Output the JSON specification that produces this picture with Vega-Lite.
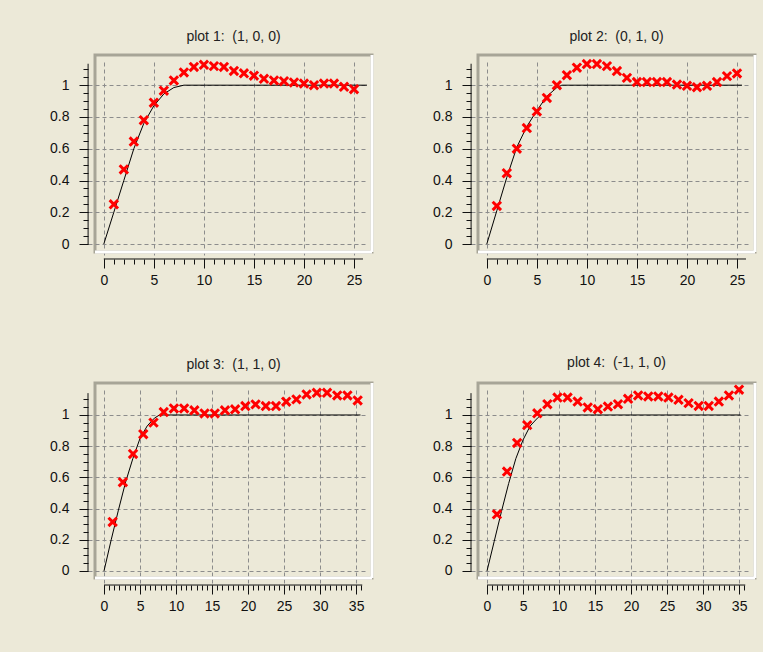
{
  "$schema": "https://vega.github.io/schema/vega-lite/v6.json",
  "background": "#ECE9D8",
  "padding": {"left": 48, "top": 28, "right": 5, "bottom": 37},
  "config": {
    "view": {"stroke": "#A7A597", "strokeWidth": 3},
    "title": {"font": "Liberation Sans", "fontSize": 14, "fontWeight": "normal", "color": "#222222", "anchor": "middle", "frame": "group", "offset": 10},
    "axis": {"labelFont": "Liberation Sans", "labelFontSize": 14, "labelColor": "#111111", "tickColor": "#111111", "tickWidth": 1, "domain": false, "labelFlush": false, "labelOverlap": false, "labelBound": false, "offset": 7, "title": null, "gridColor": "#8c8c8c", "gridDash": [4, 3], "gridWidth": 1, "gridOpacity": 1}
  },
  "datasets": {
    "p1": [{"x":1,"y":0.25},{"x":2,"y":0.47},{"x":3,"y":0.645},{"x":4,"y":0.78},{"x":5,"y":0.89},{"x":6,"y":0.965},{"x":7,"y":1.03},{"x":8,"y":1.08},{"x":9,"y":1.115},{"x":10,"y":1.128},{"x":11,"y":1.12},{"x":12,"y":1.115},{"x":13,"y":1.09},{"x":14,"y":1.075},{"x":15,"y":1.06},{"x":16,"y":1.04},{"x":17,"y":1.03},{"x":18,"y":1.025},{"x":19,"y":1.017},{"x":20,"y":1.01},{"x":21,"y":1.0},{"x":22,"y":1.01},{"x":23,"y":1.01},{"x":24,"y":0.99},{"x":25,"y":0.975}],
    "p2": [{"x":1,"y":0.24},{"x":2,"y":0.446},{"x":3,"y":0.6},{"x":4,"y":0.73},{"x":5,"y":0.835},{"x":6,"y":0.92},{"x":7,"y":1.0},{"x":8,"y":1.063},{"x":9,"y":1.11},{"x":10,"y":1.133},{"x":11,"y":1.133},{"x":12,"y":1.12},{"x":13,"y":1.089},{"x":14,"y":1.046},{"x":15,"y":1.02},{"x":16,"y":1.02},{"x":17,"y":1.02},{"x":18,"y":1.02},{"x":19,"y":1.004},{"x":20,"y":0.996},{"x":21,"y":0.987},{"x":22,"y":0.996},{"x":23,"y":1.02},{"x":24,"y":1.057},{"x":25,"y":1.074}],
    "p3": [{"x":1.2,"y":0.314},{"x":2.62,"y":0.569},{"x":4.03,"y":0.75},{"x":5.45,"y":0.877},{"x":6.87,"y":0.951},{"x":8.29,"y":1.019},{"x":9.7,"y":1.042},{"x":11.12,"y":1.042},{"x":12.54,"y":1.03},{"x":13.95,"y":1.01},{"x":15.37,"y":1.01},{"x":16.79,"y":1.03},{"x":18.2,"y":1.036},{"x":19.62,"y":1.057},{"x":21.04,"y":1.068},{"x":22.46,"y":1.057},{"x":23.87,"y":1.057},{"x":25.29,"y":1.085},{"x":26.71,"y":1.1},{"x":28.12,"y":1.132},{"x":29.54,"y":1.142},{"x":30.96,"y":1.142},{"x":32.37,"y":1.125},{"x":33.79,"y":1.125},{"x":35.21,"y":1.093}],
    "p4": [{"x":1.38,"y":0.363},{"x":2.78,"y":0.637},{"x":4.18,"y":0.821},{"x":5.58,"y":0.935},{"x":6.98,"y":1.011},{"x":8.38,"y":1.069},{"x":9.78,"y":1.112},{"x":11.18,"y":1.112},{"x":12.58,"y":1.086},{"x":13.98,"y":1.048},{"x":15.38,"y":1.037},{"x":16.78,"y":1.054},{"x":18.18,"y":1.069},{"x":19.58,"y":1.104},{"x":20.98,"y":1.125},{"x":22.38,"y":1.119},{"x":23.78,"y":1.119},{"x":25.18,"y":1.112},{"x":26.58,"y":1.097},{"x":27.98,"y":1.076},{"x":29.38,"y":1.058},{"x":30.78,"y":1.058},{"x":32.18,"y":1.086},{"x":33.58,"y":1.125},{"x":34.98,"y":1.162}],
    "l1": [{"x":0,"y":0},{"x":1,"y":0.2},{"x":2,"y":0.4},{"x":3,"y":0.6},{"x":4,"y":0.76},{"x":5,"y":0.87},{"x":6,"y":0.945},{"x":7,"y":0.985},{"x":8,"y":1},{"x":26.3,"y":1}],
    "l2": [{"x":0,"y":0},{"x":1,"y":0.21},{"x":2,"y":0.42},{"x":3,"y":0.61},{"x":4,"y":0.74},{"x":5,"y":0.84},{"x":6,"y":0.93},{"x":7,"y":0.985},{"x":7.5,"y":1},{"x":25.5,"y":1}],
    "l3": [{"x":0,"y":0},{"x":1,"y":0.2},{"x":2,"y":0.39},{"x":3,"y":0.57},{"x":4,"y":0.72},{"x":5,"y":0.85},{"x":6,"y":0.93},{"x":7,"y":0.98},{"x":7.7,"y":1},{"x":35.6,"y":1}],
    "l4": [{"x":0,"y":0},{"x":1,"y":0.19},{"x":2,"y":0.38},{"x":3,"y":0.56},{"x":4,"y":0.72},{"x":5,"y":0.84},{"x":6,"y":0.93},{"x":7,"y":0.98},{"x":7.5,"y":1},{"x":35.2,"y":1}]
  },
  "columns": 2,
  "spacing": {"row": 65, "column": 56},
  "concat": [
    {
      "title": {"text": "plot 1:\u00a0 (1, 0, 0)"},
      "width": 277, "height": 197,
      "resolve": {"axis": {"x": "independent", "y": "independent"}},
      "layer": [
        {"data": {"values": [{}]}, "mark": {"type": "rule", "color": "#ffffff", "strokeWidth": 3},
         "encoding": {"x": {"datum": 26.8, "scale": {"domain": [-0.88, 26.8], "nice": false, "zero": false}, "axis": null}, "y": {"datum": -0.05, "scale": {"domain": [-0.05, 1.19], "nice": false, "zero": false}, "axis": null}, "y2": {"datum": 1.19}}},
        {"data": {"values": [{}]}, "mark": {"type": "rule", "color": "#ffffff", "strokeWidth": 3},
         "encoding": {"x": {"datum": -0.88, "axis": null}, "x2": {"datum": 26.8}, "y": {"datum": -0.05, "axis": null}}},
        {"data": {"values": [{}]}, "mark": {"type": "rule", "color": "#111111", "strokeWidth": 1},
         "encoding": {"x": {"datum": 0, "axis": null}, "x2": {"datum": 25.9}, "y": {"datum": -0.094, "axis": null}}},
        {"data": {"values": [{}]}, "mark": {"type": "rule", "color": "#111111", "strokeWidth": 1},
         "encoding": {"x": {"datum": -1.57, "axis": null}, "y": {"datum": 0, "axis": null}, "y2": {"datum": 1.135}}},
        {"data": {"name": "l1"}, "mark": {"type": "line", "color": "#000000", "strokeWidth": 1},
         "encoding": {
           "x": {"field": "x", "type": "quantitative", "scale": {"domain": [-0.88, 26.8], "nice": false, "zero": false}, "axis": {"orient": "bottom", "values": [0, 5, 10, 15, 20, 25], "tickSize": 9, "labelPadding": 5, "grid": true, "format": "~g"}},
           "y": {"field": "y", "type": "quantitative", "scale": {"domain": [-0.05, 1.19], "nice": false, "zero": false}, "axis": {"orient": "left", "values": [0, 0.2, 0.4, 0.6, 0.8, 1], "tickSize": 9, "labelPadding": 10, "grid": true, "format": "~g"}}}},
        {"data": {"name": "p1"}, "mark": {"type": "point", "shape": "M-1,-1L1,1M1,-1L-1,1", "filled": false, "stroke": "#ff0000", "strokeWidth": 3, "size": 70, "opacity": 1},
         "encoding": {
           "x": {"field": "x", "type": "quantitative", "axis": {"orient": "bottom", "values": [0,1,2,3,4,5,6,7,8,9,10,11,12,13,14,15,16,17,18,19,20,21,22,23,24,25], "tickSize": 5, "labels": false, "grid": false}},
           "y": {"field": "y", "type": "quantitative", "axis": {"orient": "left", "values": [0,0.05,0.1,0.15,0.2,0.25,0.3,0.35,0.4,0.45,0.5,0.55,0.6,0.65,0.7,0.75,0.8,0.85,0.9,0.95,1,1.05,1.1], "tickSize": 5, "labels": false, "grid": false}}}}
      ]
    },
    {
      "title": {"text": "plot 2:\u00a0 (0, 1, 0)"},
      "width": 277, "height": 197,
      "resolve": {"axis": {"x": "independent", "y": "independent"}},
      "layer": [
        {"data": {"values": [{}]}, "mark": {"type": "rule", "color": "#ffffff", "strokeWidth": 3},
         "encoding": {"x": {"datum": 26.8, "scale": {"domain": [-0.88, 26.8], "nice": false, "zero": false}, "axis": null}, "y": {"datum": -0.05, "scale": {"domain": [-0.05, 1.19], "nice": false, "zero": false}, "axis": null}, "y2": {"datum": 1.19}}},
        {"data": {"values": [{}]}, "mark": {"type": "rule", "color": "#ffffff", "strokeWidth": 3},
         "encoding": {"x": {"datum": -0.88, "axis": null}, "x2": {"datum": 26.8}, "y": {"datum": -0.05, "axis": null}}},
        {"data": {"values": [{}]}, "mark": {"type": "rule", "color": "#111111", "strokeWidth": 1},
         "encoding": {"x": {"datum": 0, "axis": null}, "x2": {"datum": 25.9}, "y": {"datum": -0.094, "axis": null}}},
        {"data": {"values": [{}]}, "mark": {"type": "rule", "color": "#111111", "strokeWidth": 1},
         "encoding": {"x": {"datum": -1.57, "axis": null}, "y": {"datum": 0, "axis": null}, "y2": {"datum": 1.135}}},
        {"data": {"name": "l2"}, "mark": {"type": "line", "color": "#000000", "strokeWidth": 1},
         "encoding": {
           "x": {"field": "x", "type": "quantitative", "scale": {"domain": [-0.88, 26.8], "nice": false, "zero": false}, "axis": {"orient": "bottom", "values": [0, 5, 10, 15, 20, 25], "tickSize": 9, "labelPadding": 5, "grid": true, "format": "~g"}},
           "y": {"field": "y", "type": "quantitative", "scale": {"domain": [-0.05, 1.19], "nice": false, "zero": false}, "axis": {"orient": "left", "values": [0, 0.2, 0.4, 0.6, 0.8, 1], "tickSize": 9, "labelPadding": 10, "grid": true, "format": "~g"}}}},
        {"data": {"name": "p2"}, "mark": {"type": "point", "shape": "M-1,-1L1,1M1,-1L-1,1", "filled": false, "stroke": "#ff0000", "strokeWidth": 3, "size": 70, "opacity": 1},
         "encoding": {
           "x": {"field": "x", "type": "quantitative", "axis": {"orient": "bottom", "values": [0,1,2,3,4,5,6,7,8,9,10,11,12,13,14,15,16,17,18,19,20,21,22,23,24,25], "tickSize": 5, "labels": false, "grid": false}},
           "y": {"field": "y", "type": "quantitative", "axis": {"orient": "left", "values": [0,0.05,0.1,0.15,0.2,0.25,0.3,0.35,0.4,0.45,0.5,0.55,0.6,0.65,0.7,0.75,0.8,0.85,0.9,0.95,1,1.05,1.1], "tickSize": 5, "labels": false, "grid": false}}}}
      ]
    },
    {
      "title": {"text": "plot 3:\u00a0 (1, 1, 0)"},
      "width": 277, "height": 195,
      "resolve": {"axis": {"x": "independent", "y": "independent"}},
      "layer": [
        {"data": {"values": [{}]}, "mark": {"type": "rule", "color": "#ffffff", "strokeWidth": 3},
         "encoding": {"x": {"datum": 37.2, "scale": {"domain": [-1.25, 37.2], "nice": false, "zero": false}, "axis": null}, "y": {"datum": -0.045, "scale": {"domain": [-0.045, 1.205], "nice": false, "zero": false}, "axis": null}, "y2": {"datum": 1.205}}},
        {"data": {"values": [{}]}, "mark": {"type": "rule", "color": "#ffffff", "strokeWidth": 3},
         "encoding": {"x": {"datum": -1.25, "axis": null}, "x2": {"datum": 37.2}, "y": {"datum": -0.045, "axis": null}}},
        {"data": {"values": [{}]}, "mark": {"type": "rule", "color": "#111111", "strokeWidth": 1},
         "encoding": {"x": {"datum": 0, "axis": null}, "x2": {"datum": 35.85}, "y": {"datum": -0.09, "axis": null}}},
        {"data": {"values": [{}]}, "mark": {"type": "rule", "color": "#111111", "strokeWidth": 1},
         "encoding": {"x": {"datum": -2.22, "axis": null}, "y": {"datum": 0, "axis": null}, "y2": {"datum": 1.14}}},
        {"data": {"name": "l3"}, "mark": {"type": "line", "color": "#000000", "strokeWidth": 1},
         "encoding": {
           "x": {"field": "x", "type": "quantitative", "scale": {"domain": [-1.25, 37.2], "nice": false, "zero": false}, "axis": {"orient": "bottom", "values": [0, 5, 10, 15, 20, 25, 30, 35], "tickSize": 9, "labelPadding": 5, "grid": true, "format": "~g"}},
           "y": {"field": "y", "type": "quantitative", "scale": {"domain": [-0.045, 1.205], "nice": false, "zero": false}, "axis": {"orient": "left", "values": [0, 0.2, 0.4, 0.6, 0.8, 1], "tickSize": 9, "labelPadding": 10, "grid": true, "format": "~g"}}}},
        {"data": {"name": "p3"}, "mark": {"type": "point", "shape": "M-1,-1L1,1M1,-1L-1,1", "filled": false, "stroke": "#ff0000", "strokeWidth": 3, "size": 70, "opacity": 1},
         "encoding": {
           "x": {"field": "x", "type": "quantitative", "axis": {"orient": "bottom", "values": [0,0.714,1.429,2.143,2.857,3.571,4.286,5,5.714,6.429,7.143,7.857,8.571,9.286,10,10.714,11.429,12.143,12.857,13.571,14.286,15,15.714,16.429,17.143,17.857,18.571,19.286,20,20.714,21.429,22.143,22.857,23.571,24.286,25,25.714,26.429,27.143,27.857,28.571,29.286,30,30.714,31.429,32.143,32.857,33.571,34.286,35,35.714], "tickSize": 5, "labels": false, "grid": false}},
           "y": {"field": "y", "type": "quantitative", "axis": {"orient": "left", "values": [0,0.05,0.1,0.15,0.2,0.25,0.3,0.35,0.4,0.45,0.5,0.55,0.6,0.65,0.7,0.75,0.8,0.85,0.9,0.95,1,1.05,1.1], "tickSize": 5, "labels": false, "grid": false}}}}
      ]
    },
    {
      "title": {"text": "plot 4:\u00a0 (-1, 1, 0)"},
      "width": 277, "height": 195,
      "resolve": {"axis": {"x": "independent", "y": "independent"}},
      "layer": [
        {"data": {"values": [{}]}, "mark": {"type": "rule", "color": "#ffffff", "strokeWidth": 3},
         "encoding": {"x": {"datum": 37.2, "scale": {"domain": [-1.25, 37.2], "nice": false, "zero": false}, "axis": null}, "y": {"datum": -0.045, "scale": {"domain": [-0.045, 1.205], "nice": false, "zero": false}, "axis": null}, "y2": {"datum": 1.205}}},
        {"data": {"values": [{}]}, "mark": {"type": "rule", "color": "#ffffff", "strokeWidth": 3},
         "encoding": {"x": {"datum": -1.25, "axis": null}, "x2": {"datum": 37.2}, "y": {"datum": -0.045, "axis": null}}},
        {"data": {"values": [{}]}, "mark": {"type": "rule", "color": "#111111", "strokeWidth": 1},
         "encoding": {"x": {"datum": 0, "axis": null}, "x2": {"datum": 35.85}, "y": {"datum": -0.09, "axis": null}}},
        {"data": {"values": [{}]}, "mark": {"type": "rule", "color": "#111111", "strokeWidth": 1},
         "encoding": {"x": {"datum": -2.22, "axis": null}, "y": {"datum": 0, "axis": null}, "y2": {"datum": 1.14}}},
        {"data": {"name": "l4"}, "mark": {"type": "line", "color": "#000000", "strokeWidth": 1},
         "encoding": {
           "x": {"field": "x", "type": "quantitative", "scale": {"domain": [-1.25, 37.2], "nice": false, "zero": false}, "axis": {"orient": "bottom", "values": [0, 5, 10, 15, 20, 25, 30, 35], "tickSize": 9, "labelPadding": 5, "grid": true, "format": "~g"}},
           "y": {"field": "y", "type": "quantitative", "scale": {"domain": [-0.045, 1.205], "nice": false, "zero": false}, "axis": {"orient": "left", "values": [0, 0.2, 0.4, 0.6, 0.8, 1], "tickSize": 9, "labelPadding": 10, "grid": true, "format": "~g"}}}},
        {"data": {"name": "p4"}, "mark": {"type": "point", "shape": "M-1,-1L1,1M1,-1L-1,1", "filled": false, "stroke": "#ff0000", "strokeWidth": 3, "size": 70, "opacity": 1},
         "encoding": {
           "x": {"field": "x", "type": "quantitative", "axis": {"orient": "bottom", "values": [0,0.714,1.429,2.143,2.857,3.571,4.286,5,5.714,6.429,7.143,7.857,8.571,9.286,10,10.714,11.429,12.143,12.857,13.571,14.286,15,15.714,16.429,17.143,17.857,18.571,19.286,20,20.714,21.429,22.143,22.857,23.571,24.286,25,25.714,26.429,27.143,27.857,28.571,29.286,30,30.714,31.429,32.143,32.857,33.571,34.286,35,35.714], "tickSize": 5, "labels": false, "grid": false}},
           "y": {"field": "y", "type": "quantitative", "axis": {"orient": "left", "values": [0,0.05,0.1,0.15,0.2,0.25,0.3,0.35,0.4,0.45,0.5,0.55,0.6,0.65,0.7,0.75,0.8,0.85,0.9,0.95,1,1.05,1.1], "tickSize": 5, "labels": false, "grid": false}}}}
      ]
    }
  ]
}
